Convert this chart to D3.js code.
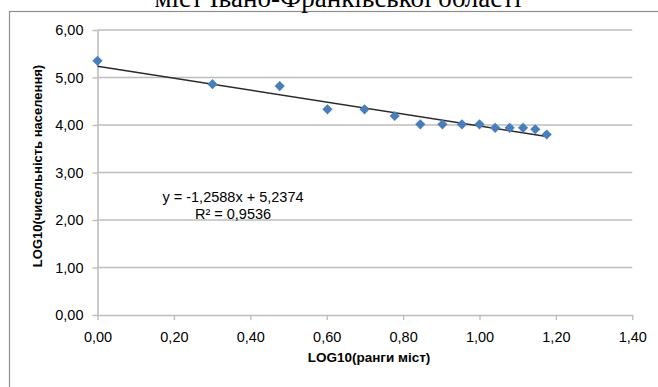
<!DOCTYPE html>
<html><head><meta charset="utf-8">
<script src="https://cdn.jsdelivr.net/npm/d3@7"></script>
<style>
html,body{margin:0;padding:0;background:#fff;}
svg{display:block;}
text{font-family:"Liberation Sans",Arial,sans-serif;fill:#000;}
</style></head>
<body>
<svg id="c" width="658" height="387"></svg>
<script>
const title = "міст Івано-Франківської області";
const xTitle = "LOG10(ранги міст)";
const yTitle = "LOG10(чисельність населення)";
const xValues = [0.000, 0.301, 0.477, 0.602, 0.699, 0.778, 0.845, 0.903, 0.954, 1.000, 1.041, 1.079, 1.114, 1.146, 1.176];
const yValues = [5.35, 4.86, 4.82, 4.33, 4.33, 4.19, 4.015, 4.015, 4.015, 4.015, 3.94, 3.94, 3.94, 3.91, 3.80];
const xTicks = [0, 0.2, 0.4, 0.6, 0.8, 1.0, 1.2, 1.4];
const yTicks = [0, 1, 2, 3, 4, 5, 6];
const slope = -1.2588, intercept = 5.2374, r2 = 0.9536;
const eqLabel = "y = -1,2588x + 5,2374";
const r2Label = "R² = 0,9536";

const svg = d3.select("#c");
const x = d3.scaleLinear().domain([0, 1.4]).range([97.5, 632.3]);
const y = d3.scaleLinear().domain([0, 6]).range([315, 30]);
const fmt = v => d3.format(".2f")(v).replace(".", ",");

// outer border
svg.append("rect").attr("x", 9.5).attr("y", 11.5).attr("width", 700).attr("height", 400)
  .attr("fill", "none").attr("stroke", "#8e8e8e").attr("stroke-width", 1.2);

// title (cut at top in the reference)
svg.append("text").attr("x", 338).attr("y", 7).attr("text-anchor", "middle")
  .style("font-family", "'Liberation Serif','Times New Roman',serif").style("font-size", "27px")
  .text(title);

// gridlines
svg.append("g").selectAll("line").data(yTicks.filter(d => d > 0)).join("line")
  .attr("x1", x(0)).attr("x2", x(1.4)).attr("y1", d => y(d)).attr("y2", d => y(d))
  .attr("stroke", "#bdbdbd").attr("stroke-width", 1.4);

// axes
const gx = svg.append("g").attr("transform", `translate(0,${y(0)})`)
  .call(d3.axisBottom(x).tickValues(xTicks).tickFormat(fmt).tickSize(5).tickSizeOuter(0).tickPadding(12));
const gy = svg.append("g").attr("transform", `translate(${x(0)},0)`)
  .call(d3.axisLeft(y).tickValues(yTicks).tickFormat(fmt).tickSize(5).tickSizeOuter(0).tickPadding(9));
[gx, gy].forEach(g => {
  g.select(".domain").attr("stroke", "#bdbdbd").attr("stroke-width", 1.6);
  g.selectAll(".tick line").attr("stroke", "#bdbdbd").attr("stroke-width", 1.4);
  g.selectAll(".tick text").style("font-size", "14.5px").style("font-family", "'Liberation Sans',Arial,sans-serif").attr("fill", "#222");
});

// axis titles
svg.append("text").attr("x", 369).attr("y", 362).attr("text-anchor", "middle")
  .style("font-size", "13.5px").style("font-weight", "bold").attr("fill", "#222").text(xTitle);
svg.append("text").attr("transform", "translate(42,166) rotate(-90)").attr("text-anchor", "middle")
  .style("font-size", "13px").style("font-weight", "bold").attr("fill", "#222").text(yTitle);

// trendline
const xMin = d3.min(xValues), xMax = d3.max(xValues);
svg.append("line")
  .attr("x1", x(xMin)).attr("y1", y(slope * xMin + intercept))
  .attr("x2", x(xMax)).attr("y2", y(slope * xMax + intercept))
  .attr("stroke", "#2b2b2b").attr("stroke-width", 1.4);

// points
const sym = d3.symbol().type(d3.symbolSquare).size(52);
svg.append("g").selectAll("path").data(xValues.map((v, i) => [v, yValues[i]])).join("path")
  .attr("d", sym)
  .attr("transform", d => `translate(${x(d[0])},${y(d[1])}) rotate(45)`)
  .attr("fill", "#4a7ebb");

// equation labels
svg.append("text").attr("x", 233).attr("y", 202).attr("text-anchor", "middle")
  .style("font-size", "14.5px").attr("fill", "#222").text(eqLabel);
svg.append("text").attr("x", 233).attr("y", 219).attr("text-anchor", "middle")
  .style("font-size", "14.5px").attr("fill", "#222").text(r2Label);
</script>
</body></html>
